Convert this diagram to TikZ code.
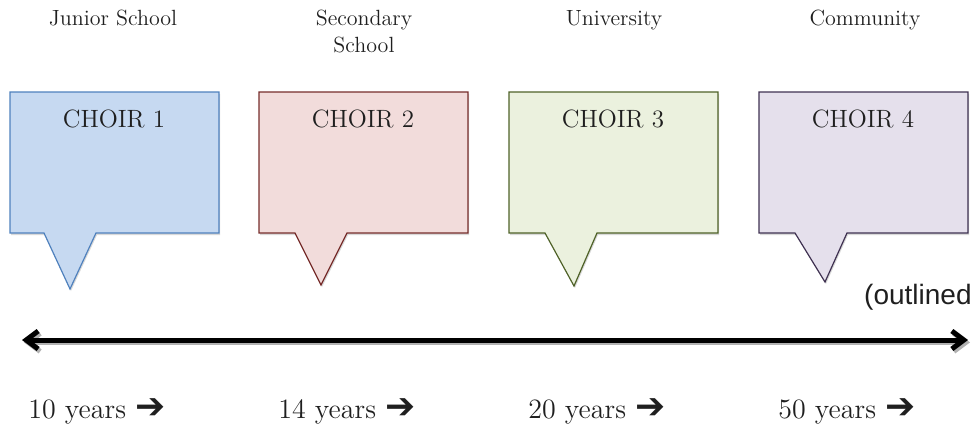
\documentclass[tikz,border=0pt]{standalone}
\usepackage{fontspec}
\newfontfamily\arrowfont{DejaVu Sans}
\newfontfamily\notefont{Liberation Sans}
\usepackage{tikz}
\usetikzlibrary{arrows.meta}
\usetikzlibrary{shadows}
\tikzset{>={Straight Barb[length=6pt, width=9pt]}}

\definecolor{fillA}{HTML}{C6D9F1}
\definecolor{lineA}{HTML}{4F81BD}
\definecolor{fillB}{HTML}{F2DCDB}
\definecolor{lineB}{HTML}{772D2B}
\definecolor{fillC}{HTML}{EBF1DE}
\definecolor{lineC}{HTML}{4F6228}
\definecolor{fillD}{HTML}{E5E0EC}
\definecolor{lineD}{HTML}{3F3151}

\begin{document}
\begin{tikzpicture}[x=0.5pt, y=-0.5pt, text=black!88,
    stage/.style={font=\fontsize{11}{13.5}\selectfont, align=center, anchor=north, inner sep=0pt},
    choirname/.style={font=\fontsize{12.5}{15}\selectfont, inner sep=0pt},
    age/.style={font=\fontsize{14}{16}\selectfont, anchor=west, inner sep=0pt},
    bubble/.style={line width=0.6pt, drop shadow={shadow xshift=0.5pt, shadow yshift=-1pt, opacity=0.3}}]
    \useasboundingbox(0, 0)rectangle(975, 428);
    \foreach \i/\x/\a/\t/\h/\f/\d in {1/10/34/60/289/fillA/lineA, 2/259/36/62/285/fillB/lineB, 3/509/36/65/286/fillC/lineC, 4/759/36/66/282/fillD/lineD}{
        \draw[bubble, fill=\f, draw=\d](\x, 92)-|(\x+209, 233)--(\x+\a+52, 233)--(\x+\t, \h)--(\x+\a, 233)-|cycle;
        \node[choirname](choir\i)at(\x+104, 119){CHOIR \i};
    }
    \node[stage](junior)at(113, 10){Junior School};
    \node[stage](secondary)at(364, 10){Secondary\\School};
    \node[stage](university)at(614, 10){University};
    \node[stage](community)at(865, 10){Community};
    \node[font=\notefont\fontsize{14}{16}\selectfont, anchor=east, inner sep=0pt](outlined)at(972, 297){(outlined};
    \coordinate(tl-left)at(22, 340);
    \coordinate(tl-right)at(968, 340);
    \draw[line width=2.5pt, black!30, <->]([shift={(1pt, -1.2pt)}]tl-left)--([shift={(1pt, -1.2pt)}]tl-right);
    \draw[line width=2.5pt, <->](tl-left)--(tl-right);
    \foreach \i/\n in {1/10, 2/14, 3/20, 4/50}
        \node[age](age\i)at(28+250*\i-250, 411){\n\ years {\arrowfont\fontsize{18}{18}\selectfont ➔}};
\end{tikzpicture}
\end{document}
